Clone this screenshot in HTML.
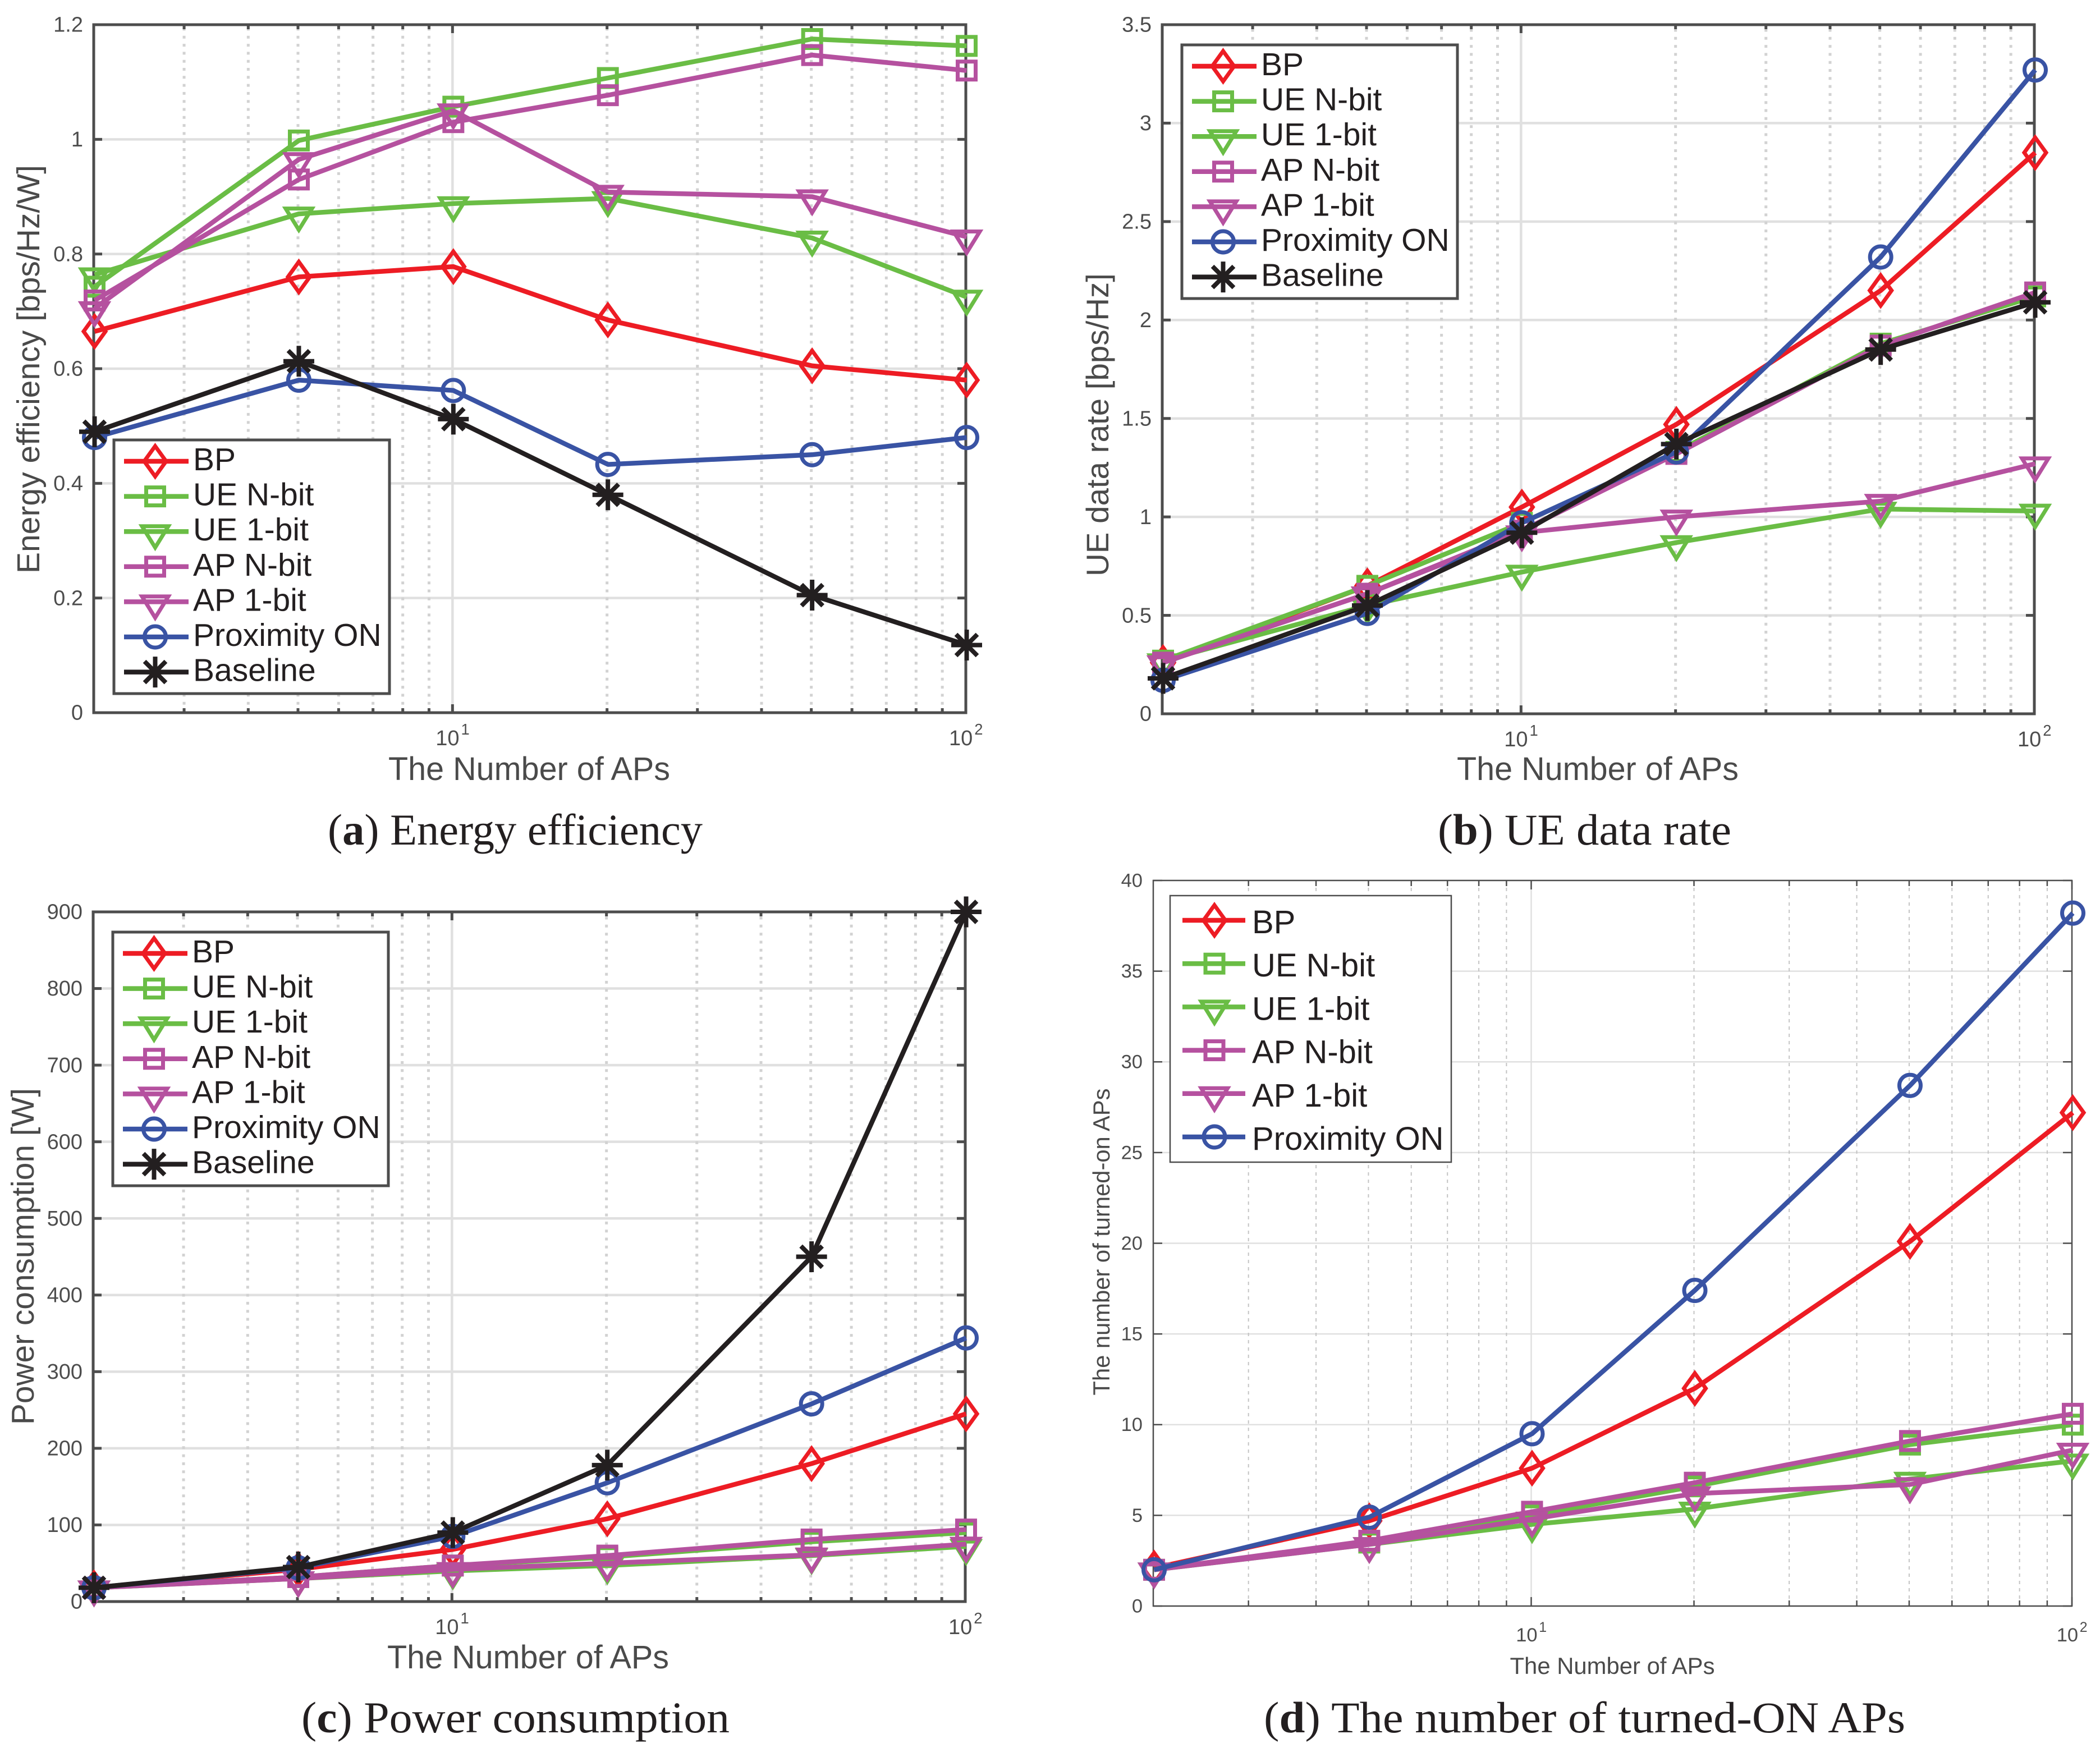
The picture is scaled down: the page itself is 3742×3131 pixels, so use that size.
<!DOCTYPE html>
<html lang="en">
<head>
<meta charset="utf-8">
<title>Energy efficiency, UE data rate, power consumption and turned-ON APs</title>
<style>
  html, body { margin: 0; padding: 0; background: #fff; }
  svg { display: block; }
  .axis-title { font-family: "Liberation Sans", sans-serif; fill: #4a4a4a; }
  .caption { font-family: "Liberation Serif", serif; fill: #231f20; font-size: 78px; }
  .caption tspan { font-weight: bold; }
</style>
</head>
<body>
<svg id="chart" xmlns="http://www.w3.org/2000/svg" width="3742" height="3131" viewBox="0 0 3742 3131">
  <rect x="0" y="0" width="3742" height="3131" fill="#ffffff"/>
  <g id="panels"></g>

  <text class="axis-title" font-size="57" text-anchor="middle" transform="translate(70 658) rotate(-90)" textLength="728" lengthAdjust="spacingAndGlyphs">Energy efficiency [bps/Hz/W]</text>
  <text class="axis-title" font-size="58" text-anchor="middle" x="943" y="1390" textLength="502" lengthAdjust="spacingAndGlyphs">The Number of APs</text>
  <text class="caption" x="584" y="1505" textLength="668" lengthAdjust="spacingAndGlyphs">(<tspan>a</tspan>) Energy efficiency</text>

  <text class="axis-title" font-size="56" text-anchor="middle" transform="translate(1975 757) rotate(-90)" textLength="540" lengthAdjust="spacingAndGlyphs">UE data rate [bps/Hz]</text>
  <text class="axis-title" font-size="58" text-anchor="middle" x="2847" y="1390" textLength="502" lengthAdjust="spacingAndGlyphs">The Number of APs</text>
  <text class="caption" x="2562" y="1505" textLength="523" lengthAdjust="spacingAndGlyphs">(<tspan>b</tspan>) UE data rate</text>

  <text class="axis-title" font-size="57" text-anchor="middle" transform="translate(60 2239) rotate(-90)" textLength="600" lengthAdjust="spacingAndGlyphs">Power consumption [W]</text>
  <text class="axis-title" font-size="58" text-anchor="middle" x="941" y="2973" textLength="502" lengthAdjust="spacingAndGlyphs">The Number of APs</text>
  <text class="caption" x="537" y="3087" textLength="763" lengthAdjust="spacingAndGlyphs">(<tspan>c</tspan>) Power consumption</text>

  <text class="axis-title" font-size="41.5" text-anchor="middle" transform="translate(1977 2213) rotate(-90)" textLength="547" lengthAdjust="spacingAndGlyphs">The number of turned-on APs</text>
  <text class="axis-title" font-size="41.5" text-anchor="middle" x="2873" y="2983" textLength="365" lengthAdjust="spacingAndGlyphs">The Number of APs</text>
  <text class="caption" x="2252" y="3087" textLength="1143" lengthAdjust="spacingAndGlyphs">(<tspan>d</tspan>) The number of turned-ON APs</text>
</svg>

<script>
// ---------- shared categories ----------
const apCounts = [2, 5, 10, 20, 50, 100];
const minorTickValues = [3, 4, 5, 6, 7, 8, 9, 20, 30, 40, 50, 60, 70, 80, 90];
const majorTickValues = [10, 100];
const majorTickExponents = ['1', '2'];
const seriesNames = ['BP', 'UE N-bit', 'UE 1-bit', 'AP N-bit', 'AP 1-bit', 'Proximity ON', 'Baseline'];

// ---------- (a) energy efficiency ----------
const energyBP = [0.665, 0.76, 0.778, 0.685, 0.605, 0.58];
const energyUEN = [0.743, 0.998, 1.057, 1.107, 1.175, 1.163];
const energyUE1 = [0.764, 0.87, 0.888, 0.897, 0.828, 0.725];
const energyAPN = [0.719, 0.93, 1.03, 1.077, 1.147, 1.12];
const energyAP1 = [0.705, 0.965, 1.05, 0.908, 0.9, 0.83];
const energyProx = [0.48, 0.58, 0.562, 0.433, 0.45, 0.48];
const energyBase = [0.49, 0.613, 0.512, 0.38, 0.205, 0.118];
const energyTicks = ['0', '0.2', '0.4', '0.6', '0.8', '1', '1.2'];

// ---------- (b) UE data rate ----------
const rateBP = [0.26, 0.65, 1.05, 1.47, 2.15, 2.85];
const rateUEN = [0.27, 0.65, 0.97, 1.33, 1.88, 2.12];
const rateUE1 = [0.27, 0.55, 0.72, 0.87, 1.04, 1.03];
const rateAPN = [0.26, 0.61, 0.93, 1.32, 1.87, 2.14];
const rateAP1 = [0.26, 0.61, 0.92, 1.0, 1.08, 1.27];
const rateProx = [0.17, 0.51, 0.97, 1.33, 2.32, 3.27];
const rateBase = [0.18, 0.55, 0.92, 1.37, 1.85, 2.09];
const rateTicks = ['0', '0.5', '1', '1.5', '2', '2.5', '3', '3.5'];

// ---------- (c) power consumption ----------
const powerBP = [18, 42, 68, 108, 180, 245];
const powerUEN = [18, 32, 47, 58, 78, 90];
const powerUE1 = [18, 30, 40, 47, 60, 72];
const powerAPN = [18, 32, 47, 60, 81, 94];
const powerAP1 = [18, 30, 42, 50, 61, 75];
const powerProx = [18, 44, 85, 155, 258, 344];
const powerBase = [18, 45, 90, 178, 450, 900];
const powerTicks = ['0', '100', '200', '300', '400', '500', '600', '700', '800', '900'];

// ---------- (d) turned-on APs ----------
const activeBP = [2.1, 4.7, 7.6, 12, 20.1, 27.2];
const activeUEN = [2, 3.5, 5, 6.6, 8.9, 10];
const activeUE1 = [2, 3.4, 4.5, 5.35, 7, 8];
const activeAPN = [2, 3.6, 5.2, 6.8, 9.1, 10.6];
const activeAP1 = [2, 3.4, 4.8, 6.2, 6.7, 8.6];
const activeProx = [2, 4.9, 9.5, 17.4, 28.7, 38.2];
const activeTicks = ['0', '5', '10', '15', '20', '25', '30', '35', '40'];

// ---------- styling ----------
const RED = '#ed1c24', GREEN = '#6abd45', PURPLE = '#b5519f', BLUE = '#3953a4', BLACK = '#231f20';
const seriesColors = [RED, GREEN, GREEN, PURPLE, PURPLE, BLUE, BLACK];
const seriesMarkers = ['diamond', 'square', 'triangle', 'square', 'triangle', 'circle', 'star'];

const SVGNS = 'http://www.w3.org/2000/svg';
function make(tag, parent, attrs) {
  const node = document.createElementNS(SVGNS, tag);
  for (const k in attrs) node.setAttribute(k, attrs[k]);
  parent.appendChild(node);
  return node;
}

function drawMarker(parent, kind, cx, cy, color, label) {
  const g = make('g', parent, { transform: 'translate(' + cx + ' ' + cy + ')', fill: 'none', stroke: color, 'stroke-width': 7 });
  
  
  if (kind === 'diamond') make('polygon', g, { points: '0,-27 19.5,0 0,27 -19.5,0' });
  if (kind === 'square') make('rect', g, { x: -16, y: -16, width: 32, height: 32 });
  if (kind === 'triangle') make('polygon', g, { points: '-23.5,-9.5 23.5,-9.5 0,28.5' });
  if (kind === 'circle') make('circle', g, { cx: 0, cy: 0, r: 19 });
  if (kind === 'star') {
    const s = make('path', g, { d: 'M0,-27.5V27.5M-27.5,0H27.5M-19,-19L19,19M-19,19L19,-19' });
    s.setAttribute('stroke-width', 8);
  }
  return g;
}

function drawPanel(p) {
  const root = document.getElementById('panels');
  const g = make('g', root, {});
  
  

  const lx = Math.log10(apCounts[0]), hx = Math.log10(apCounts[apCounts.length - 1]);
  const xScale = v => p.left + (Math.log10(v) - lx) / (hx - lx) * (p.right - p.left);
  const yScale = v => p.bottom - v / p.yMax * (p.bottom - p.top);
  const dataX = v => xScale(v) + 1.5;

  // grid
  const grid = make('g', g, {});
  
  
  p.yTicks.forEach((t, i) => {
    if (i === 0 || i === p.yTicks.length - 1) return;
    const y = yScale(i * p.yStep);
    const l = make('line', grid, { x1: p.left, x2: p.right, y1: y, y2: y, stroke: '#e0e0e0', 'stroke-width': p.gridW });
    
    
  });
  minorTickValues.forEach(v => {
    const x = xScale(v);
    const l = make('line', grid, { x1: x, x2: x, y1: p.bottom, y2: p.top, stroke: p.minorColor, 'stroke-width': p.minorW, 'stroke-dasharray': p.minorDash });
    
    
  });
  const gridTen = make('line', grid, { x1: xScale(10), x2: xScale(10), y1: p.bottom, y2: p.top, stroke: '#e0e0e0', 'stroke-width': p.gridW });
  
  

  // axes frame and ticks
  const axes = make('g', g, { stroke: '#4d4d4d', fill: 'none', 'stroke-width': p.axisW });
  
  
  const frame = make('rect', axes, { x: p.left, y: p.top, width: p.right - p.left, height: p.bottom - p.top });
  
  

  p.yTicks.forEach((t, i) => {
    const y = yScale(i * p.yStep);
    const a = make('line', axes, { x1: p.left, x2: p.left + p.majorLen, y1: y, y2: y });
    
    
    const b = make('line', axes, { x1: p.right, x2: p.right - p.majorLen, y1: y, y2: y });
    
    
    const label = make('text', g, {
      x: p.left - 19, y: y + p.tickSize * 0.36 - 1, 'text-anchor': 'end',
      'font-family': '"Liberation Sans", sans-serif', 'font-size': p.tickSize, fill: '#4d4d4d'
    });
    label.textContent = t;
    
    
  });

  minorTickValues.forEach(v => {
    const x = xScale(v);
    const a = make('line', axes, { x1: x, x2: x, y1: p.bottom, y2: p.bottom - p.minorLen });
    
    
    const b = make('line', axes, { x1: x, x2: x, y1: p.top, y2: p.top + p.minorLen });
    
    
  });
  majorTickValues.forEach((v, i) => {
    const x = xScale(v);
    const a = make('line', axes, { x1: x, x2: x, y1: p.bottom, y2: p.bottom - p.majorLen });
    
    
    const b = make('line', axes, { x1: x, x2: x, y1: p.top, y2: p.top + p.majorLen });
    
    

    const base = make('text', g, {
      x: x - p.tickSize * 0.79, y: p.bottom + p.xLabelDy,
      'font-family': '"Liberation Sans", sans-serif', 'font-size': p.tickSize, fill: '#4d4d4d'
    });
    base.textContent = '10';
    
    
    const sup = make('text', g, {
      x: x + p.tickSize * 0.4, y: p.bottom + p.xLabelDy - p.tickSize * 0.5,
      'font-family': '"Liberation Sans", sans-serif', 'font-size': p.tickSize * 0.72, fill: '#4d4d4d'
    });
    sup.textContent = majorTickExponents[i];
    
    
  });

  // series
  p.series.forEach((vals, si) => {
    const color = seriesColors[si];
    const sg = make('g', g, {});
    
    
    const pts = vals.map((v, i) => dataX(apCounts[i]).toFixed(1) + ',' + yScale(v).toFixed(1)).join(' ');
    const line = make('polyline', sg, { points: pts, fill: 'none', stroke: color, 'stroke-width': 8.5, 'stroke-linejoin': 'round' });
    
    
    vals.forEach((v, i) => {
      drawMarker(sg, seriesMarkers[si], dataX(apCounts[i]), yScale(v), color, 'series-marker');
    });
  });

  // legend
  const L = p.legend;
  const lg = make('g', g, {});
  
  
  const box = make('rect', lg, { x: L.x, y: L.y, width: L.w, height: L.h, fill: '#ffffff', stroke: '#4d4d4d', 'stroke-width': L.border });
  
  
  p.series.forEach((vals, si) => {
    const y = L.y + L.first + si * L.step;
    const color = seriesColors[si];
    const entry = make('g', lg, {});
    
    
    const key = make('line', entry, { x1: L.x + L.lineFrom, x2: L.x + L.lineTo, y1: y, y2: y, stroke: color, 'stroke-width': 8.5 });
    
    
    drawMarker(entry, seriesMarkers[si], L.x + L.marker, y, color, 'legend-marker');
    const label = make('text', entry, {
      x: L.x + L.text, y: y + L.textDy,
      'font-family': '"Liberation Sans", sans-serif', 'font-size': L.font, fill: '#231f20'
    });
    label.textContent = seriesNames[si];
    
    
  });
}

const thick = { axisW: 5, gridW: 4.5, minorW: 5, minorDash: '5 9.3', minorColor: '#d2d2d2', majorLen: 15, minorLen: 8, tickSize: 38, xLabelDy: 58 };
const legendThick = { first: 38, step: 62.6, lineFrom: 18, lineTo: 133, marker: 73.5, text: 141, textDy: 16, font: 57, border: 5, w: 491, h: 452 };

drawPanel(Object.assign({}, thick, {
  id: 'a', left: 167, right: 1721, top: 44, bottom: 1270, yMax: 1.2, yStep: 0.2, yTicks: energyTicks,
  series: [energyBP, energyUEN, energyUE1, energyAPN, energyAP1, energyProx, energyBase],
  legend: Object.assign({}, legendThick, { x: 203, y: 784 })
}));
drawPanel(Object.assign({}, thick, {
  id: 'b', left: 2071, right: 3625, top: 44, bottom: 1272, yMax: 3.5, yStep: 0.5, yTicks: rateTicks,
  series: [rateBP, rateUEN, rateUE1, rateAPN, rateAP1, rateProx, rateBase],
  legend: Object.assign({}, legendThick, { x: 2106, y: 80 })
}));
drawPanel(Object.assign({}, thick, {
  id: 'c', left: 166, right: 1720, top: 1625, bottom: 2854, yMax: 900, yStep: 100, yTicks: powerTicks,
  series: [powerBP, powerUEN, powerUE1, powerAPN, powerAP1, powerProx, powerBase],
  legend: Object.assign({}, legendThick, { x: 201, y: 1661 })
}));
drawPanel({
  id: 'd', left: 2055, right: 3692, top: 1569, bottom: 2862, yMax: 40, yStep: 5, yTicks: activeTicks,
  axisW: 2.5, gridW: 2.5, minorW: 2, minorDash: '6 7', minorColor: '#c4c4c4', majorLen: 16, minorLen: 10, tickSize: 34.5, xLabelDy: 63,
  series: [activeBP, activeUEN, activeUE1, activeAPN, activeAP1, activeProx],
  legend: { x: 2085, y: 1596, w: 501, h: 475, first: 44, step: 77.2, lineFrom: 22, lineTo: 134, marker: 79, text: 146, textDy: 23, font: 58, border: 2.5 }
});
</script>
</body>
</html>
